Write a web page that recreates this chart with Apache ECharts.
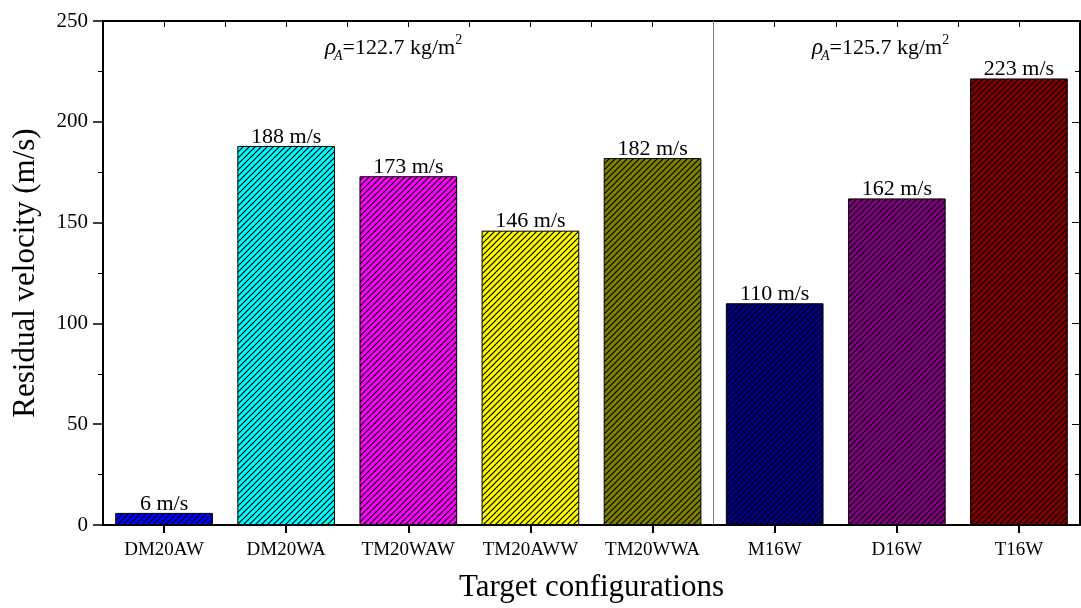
<!DOCTYPE html>
<html>
<head>
<meta charset="utf-8">
<script src="https://cdn.jsdelivr.net/npm/echarts@6/dist/echarts.min.js"></script>
<style>
  html, body { margin: 0; padding: 0; background: #fff; }
  #chart { width: 1081px; height: 608px; }
</style>
</head>
<body>
<div id="chart"></div>
<script>
  // data
  var categories = ['DM20AW', 'DM20WA', 'TM20WAW', 'TM20AWW', 'TM20WWA', 'M16W', 'D16W', 'T16W']
  var velocities = [6, 188, 173, 146, 182, 110, 162, 221.5]
  var barLabels = ['6 m/s', '188 m/s', '173 m/s', '146 m/s', '182 m/s', '110 m/s', '162 m/s', '223 m/s']
  var barColors = ['#0000ff', '#00ffff', '#ff00ff', '#ffff00', '#808000', '#000080', '#800080', '#800000']
  var yTicks = [0, 50, 100, 150, 200, 250]
  var groupSplit = [5]   // boundary between the two areal density groups, in category units

  var FONT = 'Liberation Serif'

  // diagonal hatch fill like the original plot
  function hatch(bg) {
    var s = 6
    var c = document.createElement('canvas')
    c.width = s
    c.height = s
    var ctx = c.getContext('2d')
    ctx.fillStyle = bg
    ctx.fillRect(0, 0, s, s)
    ctx.strokeStyle = '#000'
    ctx.lineWidth = 1.2
    ctx.beginPath()
    ctx.moveTo(-1, s + 1); ctx.lineTo(s + 1, -1)
    ctx.moveTo(-1, 1); ctx.lineTo(1, -1)
    ctx.moveTo(s - 1, s + 1); ctx.lineTo(s + 1, s - 1)
    ctx.stroke()
    return c
  }

  var barData = velocities.map(function (v, i) {
    return {
      value: v,
      itemStyle: {color: {image: hatch(barColors[i]), repeat: 'repeat'}}
    }
  })

  var annRich = {
    r: {fontFamily: FONT, fontStyle: 'italic', fontWeight: 'normal', fontSize: 23, color: '#000', lineHeight: 30, verticalAlign: 'middle'},
    s: {fontFamily: FONT, fontStyle: 'italic', fontWeight: 'normal', fontSize: 14, color: '#000', lineHeight: 30, verticalAlign: 'bottom', padding: [0, 0, 0, -2]},
    t: {fontFamily: FONT, fontWeight: 'normal', fontSize: 22, color: '#000', lineHeight: 30, verticalAlign: 'middle'},
    p: {fontFamily: FONT, fontWeight: 'normal', fontSize: 14, color: '#000', lineHeight: 26, verticalAlign: 'top'}
  }

  var chart = echarts.init(document.getElementById('chart'))
  chart.setOption({
    animation: false,
    title: [
      {text: '{r|ρ}{s|A}{t|=122.7 kg/m}{p|2}', left: 325, top: 33, padding: 0, textStyle: {fontWeight: 'normal', rich: annRich}},
      {text: '{r|ρ}{s|A}{t|=125.7 kg/m}{p|2}', left: 812, top: 33, padding: 0, textStyle: {fontWeight: 'normal', rich: annRich}}
    ],
    grid: {left: 103, right: 1, top: 21, bottom: 81, containLabel: false},
    xAxis: [
      {
        type: 'category',
        data: categories,
        position: 'bottom',
        name: 'Target configurations',
        nameLocation: 'middle',
        nameGap: 47,
        nameTextStyle: {fontFamily: FONT, fontSize: 31, color: '#000'},
        axisLine: {show: true, lineStyle: {color: '#000', width: 2}},
        axisTick: {show: true, inside: false, alignWithLabel: true, interval: 0, length: 8, lineStyle: {color: '#000', width: 2}},
        axisLabel: {interval: 0, fontFamily: FONT, fontSize: 19, color: '#000', margin: 16},
        splitLine: {show: false}
      },
      {
        // top frame: ticks at centres and boundaries, pointing in
        type: 'value',
        position: 'top',
        min: 0,
        max: categories.length,
        interval: 0.5,
        axisLine: {show: true, onZero: false, lineStyle: {color: '#000', width: 2}},
        axisTick: {show: true, inside: true, length: 6, lineStyle: {color: '#000', width: 1}},
        axisLabel: {show: false},
        splitLine: {show: false}
      }
    ],
    yAxis: [
      {
        type: 'value',
        min: yTicks[0],
        max: yTicks[yTicks.length - 1],
        interval: 50,
        position: 'left',
        name: 'Residual velocity (m/s)',
        nameLocation: 'middle',
        nameGap: 62,
        nameTextStyle: {fontFamily: FONT, fontSize: 31, color: '#000'},
        axisLine: {show: true, lineStyle: {color: '#000', width: 2}},
        axisTick: {show: true, length: 10, lineStyle: {color: '#000', width: 1.5}},
        minorTick: {show: true, splitNumber: 2, length: 5, lineStyle: {color: '#000', width: 1}},
        axisLabel: {fontFamily: FONT, fontSize: 21, color: '#000', margin: 15},
        splitLine: {show: false}
      },
      {
        type: 'value',
        min: yTicks[0],
        max: yTicks[yTicks.length - 1],
        interval: 50,
        position: 'right',
        axisLine: {show: true, lineStyle: {color: '#000', width: 2}},
        axisTick: {show: true, inside: true, length: 8, lineStyle: {color: '#000', width: 1}},
        minorTick: {show: true, splitNumber: 2, length: 5, lineStyle: {color: '#000', width: 1}},
        axisLabel: {show: false},
        splitLine: {show: false}
      }
    ],
    series: [
      {
        type: 'bar',
        xAxisIndex: 0,
        yAxisIndex: 0,
        data: barData,
        barCategoryGap: '20%',
        itemStyle: {borderColor: '#000', borderWidth: 1},
        label: {
          show: true,
          position: 'top',
          distance: -2,
          fontFamily: FONT,
          fontSize: 22,
          color: '#000',
          formatter: function (p) { return barLabels[p.dataIndex] }
        }
      },
      {
        type: 'line',
        xAxisIndex: 1,
        yAxisIndex: 0,
        data: [],
        silent: true,
        markLine: {
          silent: true,
          symbol: 'none',
          label: {show: false},
          lineStyle: {color: '#808080', type: 'solid', width: 1},
          data: groupSplit.map(function (v) { return {xAxis: v} })
        }
      }
    ]
  })
</script>
</body>
</html>
